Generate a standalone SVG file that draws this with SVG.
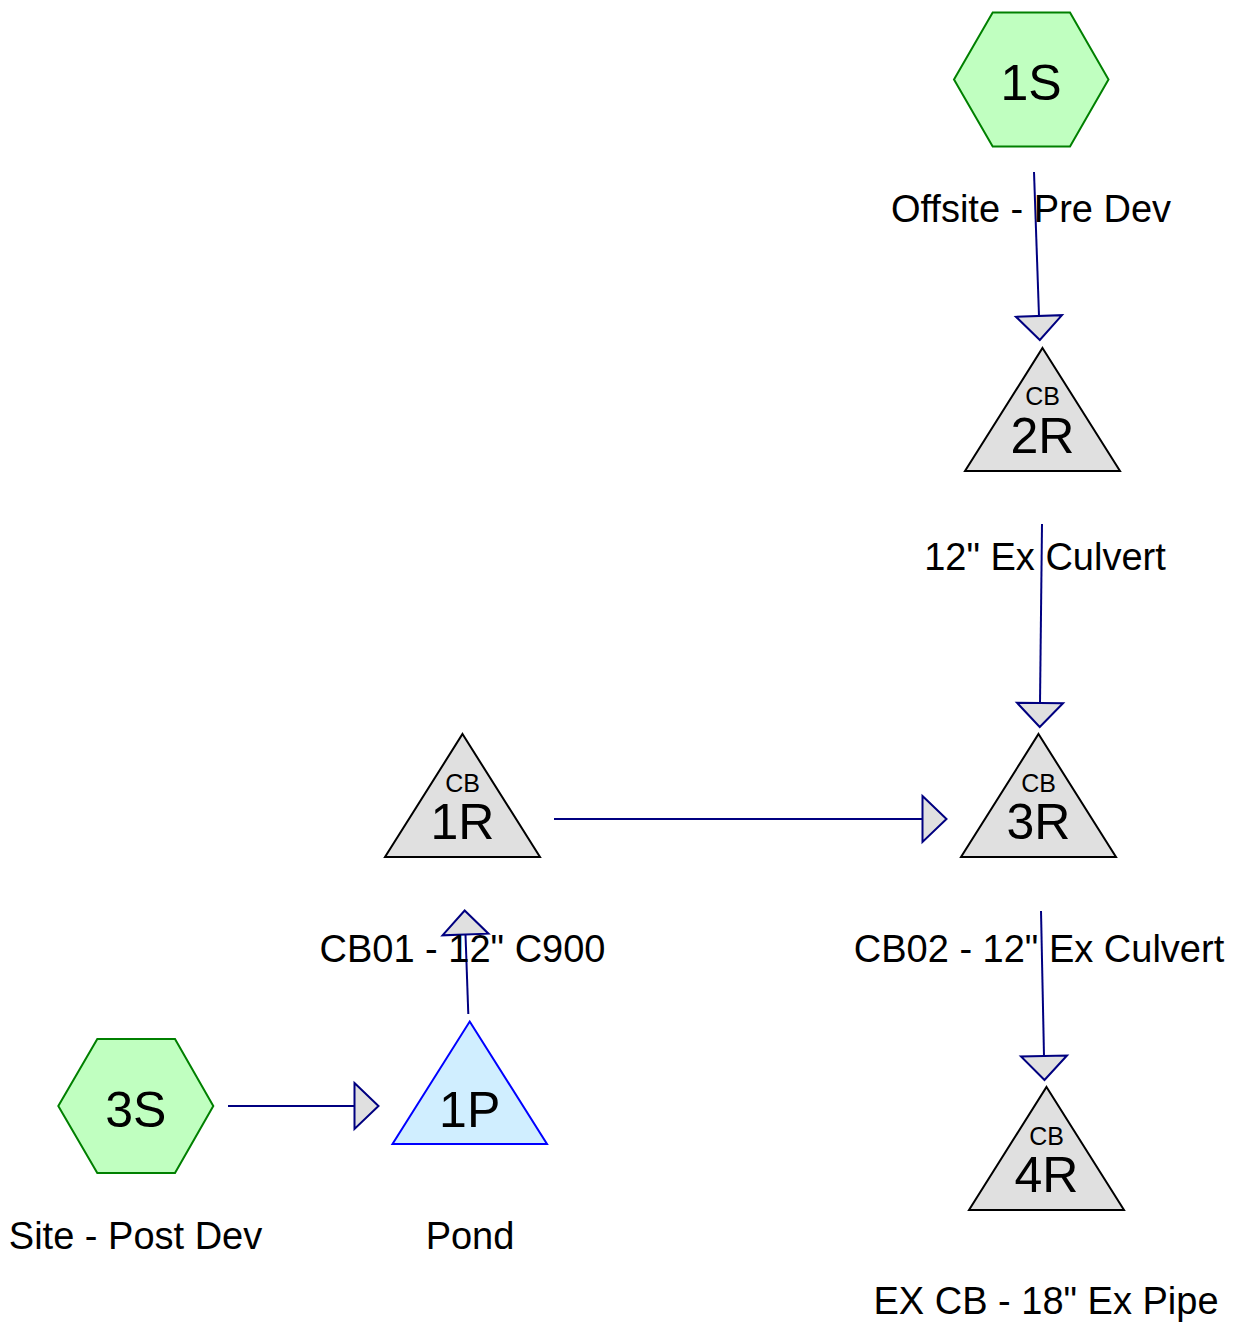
<svg xmlns="http://www.w3.org/2000/svg" width="1236" height="1326" viewBox="0 0 1236 1326">
<style>
text{font-family:"Liberation Sans",Arial,sans-serif;fill:#000;text-anchor:middle}
.id{font-size:50px}
.cb{font-size:25px}
.lbl{font-size:38px}
.hex{fill:#c0ffc0;stroke:#008000;stroke-width:2}
.reach{fill:#e0e0e0;stroke:#000;stroke-width:2}
.pond{fill:#d0eeff;stroke:#0000ff;stroke-width:2}
.conn{stroke:#000080;stroke-width:2;fill:none;marker-end:url(#arr)}
</style>
<defs>
<marker id="arr" viewBox="-2 -25 28 50" refX="0" refY="0" markerWidth="28" markerHeight="50" markerUnits="userSpaceOnUse" orient="auto" overflow="visible">
<path d="M0,-23 L24,0 L0,23 Z" fill="#e0e0e0" stroke="#000080" stroke-width="2" stroke-linejoin="miter"/>
</marker>
</defs>
<rect width="1236" height="1326" fill="#fff"/>
<g id="connectors">
<line class="conn" x1="1034" y1="172" x2="1039" y2="316"/>
<line class="conn" x1="1042" y1="524" x2="1040" y2="703"/>
<line class="conn" x1="1041" y1="911" x2="1044" y2="1056"/>
<line class="conn" x1="554" y1="819" x2="922.5" y2="819"/>
<line class="conn" x1="468.3" y1="1014" x2="465.5" y2="934.5"/>
<line class="conn" x1="228" y1="1106" x2="354.5" y2="1106"/>
</g>
<g id="node-1S">
<polygon class="hex" points="954,79.5 992.7,12.5 1070,12.5 1108.5,79.5 1070,146.5 992.7,146.5"/>
<text class="id" x="1031" y="100">1S</text>
<text class="lbl" x="1031" y="221.5">Offsite - Pre Dev</text>
</g>
<g id="node-2R">
<polygon class="reach" points="1042.5,348 1120,471 965,471"/>
<text class="cb" x="1042.5" y="405">CB</text>
<text class="id" x="1042.5" y="453">2R</text>
<text class="lbl" x="1045" y="569.5">12" Ex Culvert</text>
</g>
<g id="node-3R">
<polygon class="reach" points="1038.5,734 1116,857 961,857"/>
<text class="cb" x="1038.5" y="791.5">CB</text>
<text class="id" x="1038.5" y="839">3R</text>
<text class="lbl" x="1039" y="961.5">CB02 - 12" Ex Culvert</text>
</g>
<g id="node-1R">
<polygon class="reach" points="462.5,734 540,857 385,857"/>
<text class="cb" x="462.5" y="791.5">CB</text>
<text class="id" x="462.5" y="839">1R</text>
<text class="lbl" x="462.5" y="961.5">CB01 - 12" C900</text>
</g>
<g id="node-4R">
<polygon class="reach" points="1046.5,1087 1124,1210 969,1210"/>
<text class="cb" x="1046.5" y="1144.5">CB</text>
<text class="id" x="1046.5" y="1192">4R</text>
<text class="lbl" x="1046" y="1314">EX CB - 18" Ex Pipe</text>
</g>
<g id="node-1P">
<polygon class="pond" points="469.7,1021.5 547,1144 392.5,1144"/>
<text class="id" x="469.7" y="1126.5">1P</text>
<text class="lbl" x="470" y="1248.5">Pond</text>
</g>
<g id="node-3S">
<polygon class="hex" points="58.3,1106 97.3,1039 175,1039 213.3,1106 175,1173 97.3,1173"/>
<text class="id" x="135.8" y="1126.5">3S</text>
<text class="lbl" x="135.5" y="1248.5">Site - Post Dev</text>
</g>
</svg>
